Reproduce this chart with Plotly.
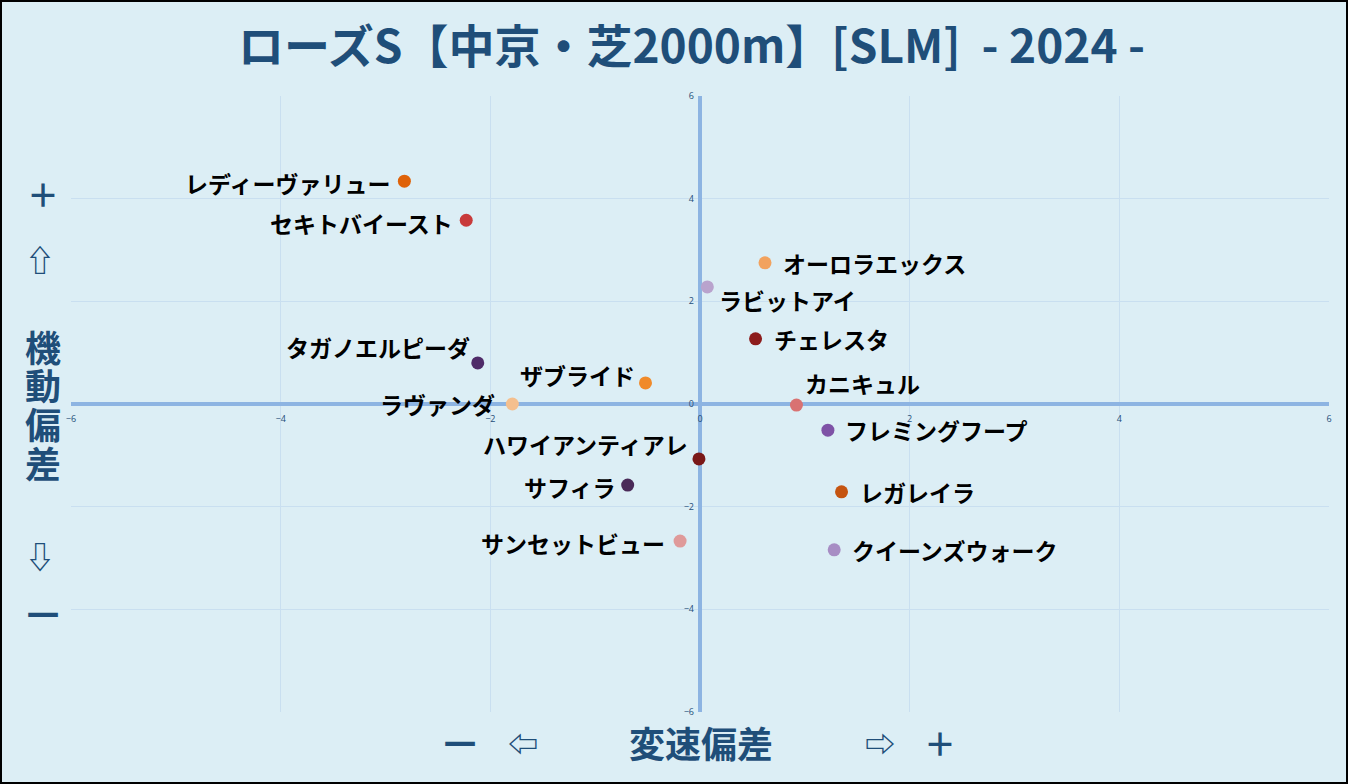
import plotly.graph_objects as go

# ── データ ───────────────────────────────────────────────
horses = [
    "レディーヴァリュー", "セキトバイースト", "オーロラエックス", "ラビットアイ",
    "チェレスタ", "タガノエルピーダ", "ザブライド", "ラヴァンダ", "カニキュル",
    "フレミングフープ", "ハワイアンティアレ", "サフィラ", "レガレイラ",
    "サンセットビュー", "クイーンズウォーク",
]
hensoku = [-2.82, -2.23, 0.62, 0.07, 0.53, -2.12, -0.52, -1.79, 0.92,
           1.22, -0.01, -0.69, 1.35, -0.19, 1.28]
kidou = [4.34, 3.58, 2.75, 2.28, 1.27, 0.80, 0.41, 0.0, -0.02,
         -0.51, -1.07, -1.58, -1.71, -2.67, -2.84]
colors = ["#DF6208", "#C83A3A", "#F2A25E", "#B9A3CD", "#8C1C1C", "#4F2B68",
          "#F08A2A", "#F4BF8E", "#D97272", "#7E52A6", "#7A1818", "#4A2A58",
          "#C55410", "#DF9A9A", "#A78DC4"]
tick_vals = [-6, -4, -2, 0, 2, 4, 6]

# ラベル位置 (xanchor, xshift, yshift)
label_pos = [
    ("right", -12, -2), ("right", -11, -3), ("left", 16, 0), ("left", 10, -13),
    ("left", 16, 0), ("right", -6, 16), ("right", -8, 8), ("right", -15, 0),
    ("left", 7, 22), ("left", 15, 0), ("right", -9, 15), ("right", -10, -2),
    ("left", 16, 0), ("right", -13, -2), ("left", 16, 0),
]

W, H = 1348, 784
L, R, T, B = 71, 19, 96, 72
PW, PH = W - L - R, H - T - B
NAVY = "#1F4E79"
BG = "#DCEEF5"
JP = "Noto Sans CJK JP"


def px(x, y):
    """ピクセル座標 -> paper座標"""
    return (x - L) / PW, (H - B - y) / PH


fig = go.Figure()
fig.add_trace(go.Scatter(
    x=hensoku, y=kidou, mode="markers",
    marker=dict(size=13, color=colors, line=dict(width=0)),
    text=horses, hoverinfo="text", showlegend=False,
))

for name, x, y, (anc, xs, ys) in zip(horses, hensoku, kidou, label_pos):
    fig.add_annotation(x=x, y=y, text=f"<b>{name}</b>", showarrow=False,
                       xanchor=anc, yanchor="middle", xshift=xs, yshift=ys,
                       font=dict(family=JP, size=23, color="#000000"))

# 軸ラベル
side = [("＋", 43, 193, 32), ("⇧", 40, 258, 30), ("機", 43, 346, 36),
        ("動", 43, 384, 36), ("偏", 43, 423, 36), ("差", 43, 462, 36),
        ("⇩", 40, 555, 30), ("一", 43, 613, 32),
        ("一", 460, 742, 32), ("⇦", 523, 742, 30), ("変速偏差", 701, 742, 36),
        ("⇨", 880, 742, 30), ("＋", 940, 742, 32)]
for txt, sx, sy, sz in side:
    xp, yp = px(sx, sy)
    fig.add_annotation(x=xp, y=yp, xref="paper", yref="paper", text=f"<b>{txt}</b>",
                       showarrow=False, xanchor="center", yanchor="middle",
                       font=dict(family=JP, size=sz, color=NAVY))

# 外枠
x0, y0 = px(1, H - 1)
x1, y1 = px(W - 1, 1)
fig.add_shape(type="rect", xref="paper", yref="paper", x0=x0, y0=y0, x1=x1, y1=y1,
              line=dict(color="#000000", width=2), layer="above")

axis_common = dict(
    range=[-6, 6], tickvals=tick_vals, showgrid=True, gridcolor="#C9DFF0",
    gridwidth=1, zeroline=True, zerolinecolor="#8DB4E2", zerolinewidth=4,
    showline=False, tickfont=dict(family="Open Sans", size=9, color=NAVY),
    ticks="", anchor="free", position=0.5, fixedrange=True,
)
fig.update_layout(
    width=W, height=H,
    margin=dict(l=L, r=R, t=T, b=B),
    paper_bgcolor=BG, plot_bgcolor=BG,
    title=dict(text="<b>ローズS【中京・芝2000m】[SLM]  - 2024 -</b>",
               x=0.513, xanchor="center", y=0.94, yanchor="middle",
               font=dict(family=JP, size=46, color=NAVY)),
    xaxis=dict(**axis_common),
    yaxis=dict(**axis_common),
    showlegend=False,
)
fig.update_xaxes(ticklabelstandoff=8)
fig.update_yaxes(ticklabelstandoff=6)

fig.write_html("out.html", config={"displayModeBar": False},
               post_script="document.body.style.margin='0';")
